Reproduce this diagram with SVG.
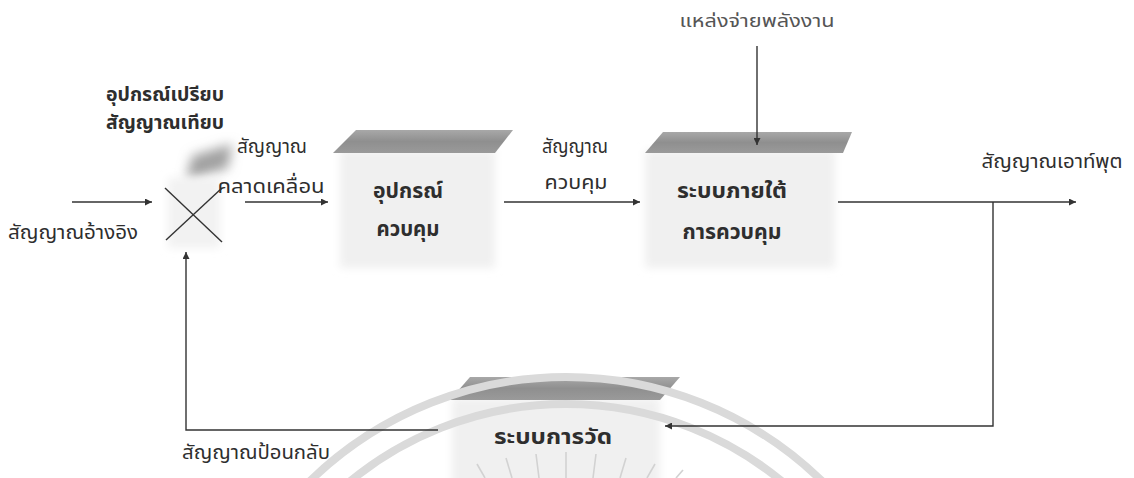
<svg xmlns="http://www.w3.org/2000/svg" width="1134" height="478" viewBox="0 0 1134 478">
<style>
.t{font-family:"Noto Sans Thai","Noto Sans Thai UI","Loma","Garuda","Waree","Norasi","Tlwg Typo","Noto Sans",sans-serif;fill:#2e2e2e;text-anchor:middle}
.lb{font-size:20px}
.bx{font-size:21px;font-weight:bold}
.cm{font-size:19px;font-weight:bold}
.sm{font-size:17px;fill:#555}
.ln{stroke:#333;stroke-width:1.4;fill:none}
.top{fill:url(#gtop)}
.body{fill:#f0f0f0;filter:url(#soft)}
.wm{fill:none;stroke:#dadada;stroke-width:8}
.ray{stroke:#d2d2d2;stroke-width:1.6}
</style>
<defs>
<marker id="ah" viewBox="0 0 10 10" refX="10" refY="5" markerWidth="9" markerHeight="7" markerUnits="userSpaceOnUse" orient="auto">
<path d="M0,0 L10,5 L0,10 z" fill="#333"/>
</marker>
<linearGradient id="gtop" x1="0" y1="0" x2="0" y2="1">
<stop offset="0" stop-color="#a8a8a8"/>
<stop offset="0.5" stop-color="#8f8f8f"/>
<stop offset="1" stop-color="#9a9a9a"/>
</linearGradient>
<filter id="soft" x="-20%" y="-20%" width="140%" height="140%"><feGaussianBlur stdDeviation="4"/></filter>
<filter id="blob" x="-50%" y="-50%" width="200%" height="200%"><feGaussianBlur stdDeviation="6"/></filter>
</defs>
<rect width="1134" height="478" fill="#ffffff"/>

<g id="comparator">
<path d="M192,156 L232,144 L228,168 L186,180 z" fill="#a0a0a0" filter="url(#blob)"/>
<rect x="168" y="178" width="52" height="70" fill="#f2f2f2" filter="url(#soft)"/>
<line class="ln" x1="165" y1="188" x2="222" y2="242"/>
<line class="ln" x1="166" y1="240" x2="222" y2="188"/>
<text class="t cm" x="165" y="101" textLength="118" lengthAdjust="spacingAndGlyphs">อุปกรณ์เปรียบ</text>
<text class="t cm" x="165" y="129" textLength="118" lengthAdjust="spacingAndGlyphs">สัญญาณเทียบ</text>
</g>

<g id="controller">
<rect class="body" x="340" y="150" width="155" height="118"/>
<path class="top" d="M356,130 L513,130 L495,153 L333,153 z"/>
<text class="t bx" x="408" y="198" textLength="70" lengthAdjust="spacingAndGlyphs">อุปกรณ์</text>
<text class="t bx" x="408" y="236" textLength="63" lengthAdjust="spacingAndGlyphs">ควบคุม</text>
</g>

<g id="plant">
<rect class="body" x="645" y="150" width="190" height="118"/>
<path class="top" d="M663,132 L852,132 L843,153 L645,153 z"/>
<text class="t bx" x="732" y="198" textLength="110" lengthAdjust="spacingAndGlyphs">ระบบภายใต้</text>
<text class="t bx" x="732" y="239" textLength="99" lengthAdjust="spacingAndGlyphs">การควบคุม</text>
</g>

<g id="measurement">
<rect class="body" x="452" y="398" width="208" height="90"/>
<path class="top" d="M470,377 L680,377 L660,400 L450,400 z"/>
<text class="t bx" x="553" y="444" textLength="118" lengthAdjust="spacingAndGlyphs">ระบบการวัด</text>
</g>

<g id="watermark">
<circle class="wm" cx="566" cy="744" r="367"/>
<circle class="wm" cx="566" cy="744" r="340"/>
<line class="ray" x1="566" y1="452" x2="566" y2="478"/>
<line class="ray" x1="536" y1="454" x2="539" y2="478"/>
<line class="ray" x1="506" y1="458" x2="512" y2="478"/>
<line class="ray" x1="477" y1="464" x2="485" y2="478"/>
<line class="ray" x1="596" y1="454" x2="593" y2="478"/>
<line class="ray" x1="626" y1="458" x2="620" y2="478"/>
<line class="ray" x1="655" y1="464" x2="647" y2="478"/>
<line class="ray" x1="683" y1="470" x2="676" y2="478"/>
</g>

<g id="connectors">
<line class="ln" x1="72" y1="202" x2="152" y2="202" marker-end="url(#ah)"/>
<line class="ln" x1="245" y1="202" x2="328" y2="202" marker-end="url(#ah)"/>
<line class="ln" x1="504" y1="202" x2="640" y2="202" marker-end="url(#ah)"/>
<line class="ln" x1="838" y1="202" x2="1076" y2="202" marker-end="url(#ah)"/>
<line class="ln" x1="757" y1="46" x2="757" y2="145" marker-end="url(#ah)"/>
<polyline class="ln" points="993,202 993,426 665,426" marker-end="url(#ah)"/>
<polyline class="ln" points="438,430 186,430 186,252" marker-end="url(#ah)"/>
</g>

<g id="labels">
<text class="t sm" x="757" y="27" textLength="155" lengthAdjust="spacingAndGlyphs">แหล่งจ่ายพลังงาน</text>
<text class="t lb" x="272" y="153" textLength="70" lengthAdjust="spacingAndGlyphs">สัญญาณ</text>
<text class="t lb" x="271" y="193" textLength="107" lengthAdjust="spacingAndGlyphs">คลาดเคลื่อน</text>
<text class="t lb" x="73" y="239" textLength="130" lengthAdjust="spacingAndGlyphs">สัญญาณอ้างอิง</text>
<text class="t lb" x="575" y="153" textLength="66" lengthAdjust="spacingAndGlyphs">สัญญาณ</text>
<text class="t lb" x="576" y="189" textLength="63" lengthAdjust="spacingAndGlyphs">ควบคุม</text>
<text class="t lb" x="1052" y="168" textLength="141" lengthAdjust="spacingAndGlyphs">สัญญาณเอาท์พุต</text>
<text class="t lb" x="256" y="459" textLength="148" lengthAdjust="spacingAndGlyphs">สัญญาณป้อนกลับ</text>
</g>
</svg>
